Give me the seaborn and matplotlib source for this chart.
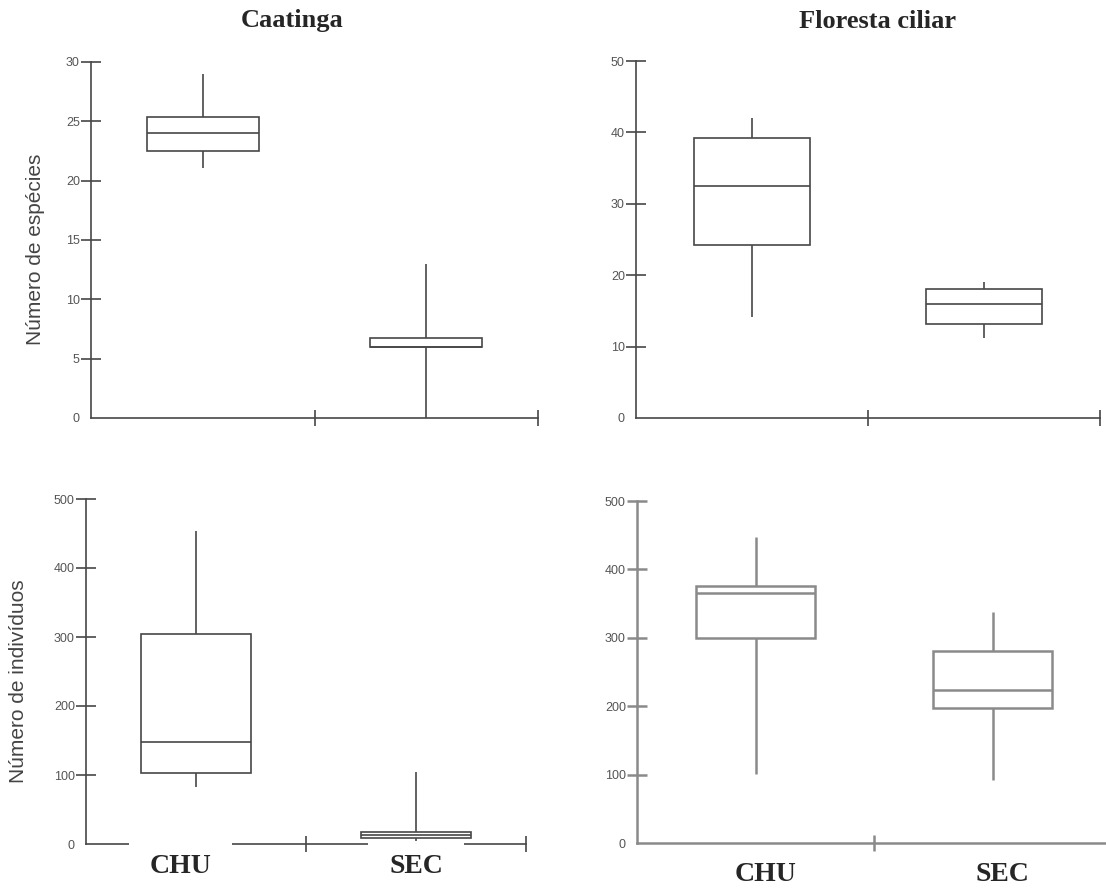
import matplotlib
matplotlib.use("Agg")
import matplotlib.pyplot as plt
import seaborn as sns
import pandas as pd

# grupos e resumos de cinco números: mín, Q1, mediana, Q3, máx
grupos = ["CHU", "SEC"]

caat_esp_chu = [21.1, 22.5, 24.0, 25.4, 29.0]
caat_esp_sec = [0.0, 6.0, 6.0, 6.7, 13.0]
flor_esp_chu = [14.1, 24.2, 32.5, 39.2, 42.0]
flor_esp_sec = [11.2, 13.2, 16.0, 18.1, 19.0]
caat_ind_chu = [83, 103, 148, 305, 454]
caat_ind_sec = [4, 8, 12.5, 17, 104]
flor_ind_chu = [101, 300, 365, 376, 447]
flor_ind_sec = [92, 198, 224, 280, 337]

ticks_esp_caat = [0, 5, 10, 15, 20, 25, 30]
ticks_esp_flor = [0, 10, 20, 30, 40, 50]
ticks_ind = [0, 100, 200, 300, 400, 500]

titulos = ["Caatinga", "Floresta ciliar"]
ylab_esp = "Número de espécies"
ylab_ind = "Número de indivíduos"

sns.set_style("white")
plt.rcParams['font.family'] = ['Liberation Sans', 'DejaVu Sans']

W, H = 1106, 888
fig = plt.figure(figsize=(W / 100, H / 100), dpi=100)


def eixo(esq, dir, topo, base):
    # posição em pixels -> fração da figura
    return fig.add_axes([esq / W, 1 - base / H, (dir - esq) / W, (base - topo) / H])


def painel(ax, chu, sec, ticks, cor, lw):
    df = pd.DataFrame({"grupo": [grupos[0]] * len(chu) + [grupos[1]] * len(sec),
                       "valor": chu + sec})
    sns.boxplot(data=df, x="grupo", y="valor", ax=ax, whis=(0, 100), showcaps=False,
                showfliers=False, width=0.5, color="white", saturation=1,
                linecolor=cor, linewidth=lw)
    for art in ax.patches + ax.lines:
        art.set_zorder(3)
    ax.set_xlim(-0.5, 1.5)
    ax.set_ylim(ticks[0], ticks[-1])
    ax.set_yticks(ticks)
    ax.set_xticks([0.5, 1.5])
    ax.set_xticklabels([])
    ax.set_xlabel("")
    ax.set_ylabel("")
    for s in ["top", "right"]:
        ax.spines[s].set_visible(False)
    for s in ["left", "bottom"]:
        ax.spines[s].set_color(cor)
        ax.spines[s].set_linewidth(lw)
    ax.tick_params(axis="y", left=True, direction="inout", length=14, width=lw, color=cor,
                   labelsize=9, labelcolor="#555555", pad=1)
    ax.tick_params(axis="x", bottom=True, direction="inout", length=11, width=lw, color=cor)
    ax.yaxis.get_major_ticks()[0].tick1line.set_visible(False)
    ax.set_facecolor("none")


escuro = "#474747"
claro = "#8a8a8a"

ax1 = eixo(91, 538, 62, 418)
painel(ax1, caat_esp_chu, caat_esp_sec, ticks_esp_caat, escuro, 1.2)
ax2 = eixo(636, 1100, 61, 418)
painel(ax2, flor_esp_chu, flor_esp_sec, ticks_esp_flor, escuro, 1.2)
ax3 = eixo(86, 526, 499, 844)
painel(ax3, caat_ind_chu, caat_ind_sec, ticks_ind, escuro, 1.2)
ax4 = eixo(637, 1111, 501, 843)
painel(ax4, flor_ind_chu, flor_ind_sec, ticks_ind, claro, 1.8)

# títulos das colunas
fig.text(292 / W, 1 - 21 / H, titulos[0], ha="center", va="center",
         family="Liberation Serif", weight="bold", size=19)
fig.text(878 / W, 1 - 21 / H, titulos[1], ha="center", va="center",
         family="Liberation Serif", weight="bold", size=19)

# rótulos do eixo y
ax1.set_ylabel(ylab_esp, fontsize=15, color="#444444")
ax1.yaxis.set_label_coords((45 - 91) / 447, (418 - 249) / 356)
ax3.set_ylabel(ylab_ind, fontsize=15, color="#444444")
ax3.yaxis.set_label_coords((28 - 86) / 440, (844 - 681) / 345)

# rótulos dos grupos (com fundo branco, como no original)
for i, g in enumerate(grupos):
    ax3.annotate(g, xy=(i, 0), xycoords=ax3.get_xaxis_transform(), xytext=(-11 if i == 0 else 0, -16),
                 textcoords="offset points", ha="center", va="center",
                 family="Liberation Serif", weight="bold", size=20, zorder=2.6,
                 bbox=dict(facecolor="white", edgecolor="none", pad=15))
    ax4.annotate(g, xy=(i, 0), xycoords=ax4.get_xaxis_transform(), xytext=(7, -23),
                 textcoords="offset points", ha="center", va="center",
                 family="Liberation Serif", weight="bold", size=20)

fig.savefig("out.png", dpi=100)
